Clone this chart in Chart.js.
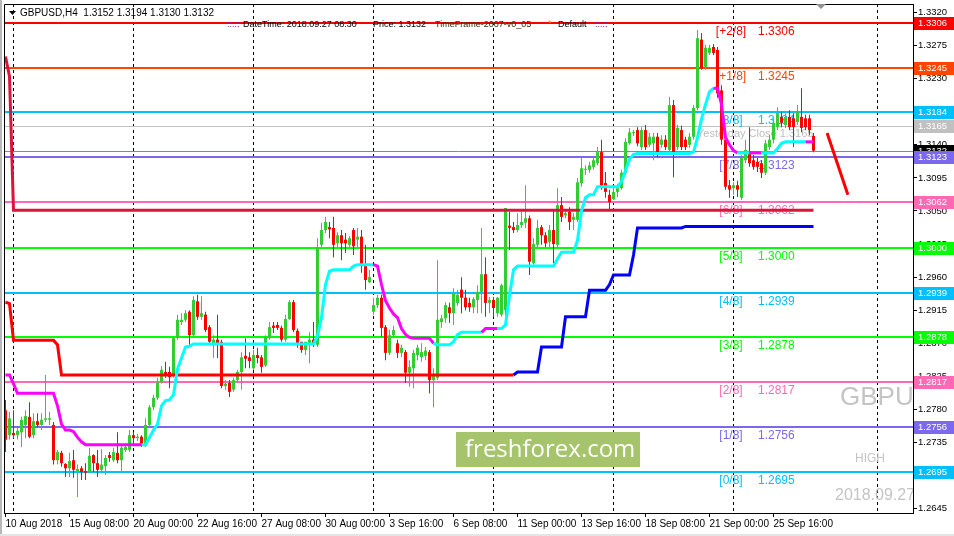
<!DOCTYPE html>
<html>
<head>
<meta charset="utf-8">
<script src="https://cdn.jsdelivr.net/npm/chart.js@4.4.1/dist/chart.umd.min.js"></script>
<style>
  html, body { margin: 0; padding: 0; background: #fff; }
  canvas { display: block; }
</style>
</head>
<body>
<canvas id="chart" width="954" height="536"></canvas>
<script>
// GBPUSD H4 candles, [open, high, low, close], one per bar from 10 Aug 2018 16:00
const candles = [
  [1.2779,1.2793,1.2722,1.2739],[1.2745,1.2777,1.2739,1.2768],[1.2748,1.2779,1.2741,1.2745],[1.2745,1.2755,1.2739,1.2751],
  [1.2749,1.2770,1.2729,1.2766],[1.2759,1.2779,1.2741,1.2771],[1.2770,1.2790,1.2741,1.2743],[1.2745,1.2775,1.2741,1.2764],
  [1.2764,1.2775,1.2756,1.2759],[1.2759,1.2775,1.2752,1.2766],[1.2766,1.2827,1.2763,1.2768],[1.2766,1.2777,1.2759,1.2768],
  [1.2759,1.2763,1.2705,1.2711],[1.2711,1.2725,1.2705,1.2722],[1.2721,1.2724,1.2702,1.2707],[1.2706,1.2707,1.2688,1.2700],
  [1.2700,1.2721,1.2688,1.2710],[1.2711,1.2725,1.2687,1.2698],[1.2695,1.2705,1.2661,1.2699],[1.2700,1.2703,1.2684,1.2695],
  [1.2696,1.2707,1.2684,1.2694],[1.2695,1.2728,1.2694,1.2717],[1.2718,1.2719,1.2695,1.2707],[1.2707,1.2725,1.2688,1.2698],
  [1.2698,1.2726,1.2695,1.2705],[1.2703,1.2718,1.2691,1.2714],[1.2718,1.2722,1.2709,1.2714],[1.2711,1.2728,1.2709,1.2722],
  [1.2721,1.2749,1.2707,1.2711],[1.2711,1.2732,1.2696,1.2728],[1.2725,1.2734,1.2722,1.2729],[1.2725,1.2752,1.2722,1.2745],
  [1.2745,1.2749,1.2734,1.2741],[1.2741,1.2747,1.2737,1.2743],[1.2743,1.2745,1.2729,1.2732],[1.2732,1.2768,1.2729,1.2759],
  [1.2759,1.2786,1.2755,1.2783],[1.2783,1.2800,1.2779,1.2796],[1.2796,1.2823,1.2793,1.2817],[1.2817,1.2839,1.2815,1.2834],
  [1.2831,1.2845,1.2823,1.2827],[1.2831,1.2838,1.2809,1.2824],[1.2827,1.2880,1.2823,1.2877],[1.2877,1.2909,1.2875,1.2902],
  [1.2899,1.2911,1.2895,1.2902],[1.2902,1.2915,1.2899,1.2911],[1.2913,1.2915,1.2868,1.2881],[1.2881,1.2934,1.2879,1.2929],
  [1.2927,1.2936,1.2902,1.2906],[1.2906,1.2934,1.2902,1.2911],[1.2909,1.2913,1.2885,1.2888],[1.2892,1.2895,1.2868,1.2872],
  [1.2870,1.2881,1.2850,1.2875],[1.2875,1.2909,1.2850,1.2870],[1.2872,1.2875,1.2809,1.2812],[1.2812,1.2820,1.2807,1.2815],
  [1.2816,1.2820,1.2797,1.2804],[1.2807,1.2823,1.2804,1.2820],[1.2820,1.2834,1.2817,1.2831],[1.2831,1.2858,1.2807,1.2851],
  [1.2853,1.2877,1.2836,1.2849],[1.2851,1.2858,1.2836,1.2846],[1.2836,1.2861,1.2834,1.2854],[1.2854,1.2864,1.2843,1.2850],
  [1.2851,1.2854,1.2830,1.2838],[1.2840,1.2881,1.2838,1.2879],[1.2877,1.2899,1.2875,1.2892],[1.2894,1.2899,1.2884,1.2891],
  [1.2895,1.2899,1.2888,1.2891],[1.2891,1.2894,1.2872,1.2875],[1.2875,1.2909,1.2872,1.2903],[1.2903,1.2929,1.2902,1.2926],
  [1.2926,1.2929,1.2885,1.2888],[1.2887,1.2890,1.2864,1.2868],[1.2872,1.2872,1.2857,1.2861],[1.2861,1.2872,1.2854,1.2872],
  [1.2870,1.2885,1.2843,1.2875],[1.2875,1.2899,1.2865,1.2870],[1.2868,1.3013,1.2865,1.3001],[1.3004,1.3034,1.3001,1.3024],
  [1.3024,1.3042,1.3020,1.3035],[1.3028,1.3035,1.3013,1.3025],[1.3027,1.3042,1.2987,1.3004],[1.3006,1.3021,1.3001,1.3017],
  [1.3017,1.3024,1.2983,1.3006],[1.3011,1.3020,1.2993,1.3006],[1.3004,1.3016,1.3001,1.3013],[1.3024,1.3027,1.2990,1.3002],
  [1.3011,1.3027,1.3000,1.3015],[1.3015,1.3024,1.2966,1.2977],[1.2977,1.3004,1.2943,1.2956],[1.2953,1.2970,1.2952,1.2960],
  [1.2913,1.2932,1.2909,1.2922],[1.2922,1.2936,1.2918,1.2932],[1.2932,1.2936,1.2879,1.2891],[1.2892,1.2895,1.2847,1.2857],
  [1.2857,1.2888,1.2854,1.2881],[1.2881,1.2894,1.2877,1.2888],[1.2870,1.2875,1.2850,1.2857],[1.2857,1.2868,1.2851,1.2864],
  [1.2858,1.2861,1.2816,1.2830],[1.2830,1.2847,1.2811,1.2838],[1.2836,1.2861,1.2809,1.2857],[1.2854,1.2868,1.2847,1.2864],
  [1.2851,1.2870,1.2845,1.2858],[1.2853,1.2865,1.2847,1.2860],[1.2858,1.2861,1.2802,1.2820],[1.2820,1.2836,1.2783,1.2827],
  [1.2823,1.2983,1.2820,1.2902],[1.2899,1.2909,1.2891,1.2904],[1.2904,1.2926,1.2898,1.2922],[1.2919,1.2925,1.2898,1.2911],
  [1.2911,1.2945,1.2895,1.2937],[1.2925,1.2943,1.2921,1.2936],[1.2943,1.2960,1.2911,1.2932],[1.2932,1.2943,1.2915,1.2919],
  [1.2925,1.2932,1.2913,1.2919],[1.2919,1.2933,1.2911,1.2930],[1.2929,1.2949,1.2911,1.2940],[1.2940,1.3027,1.2911,1.2964],
  [1.2964,1.2987,1.2906,1.2925],[1.2925,1.2933,1.2911,1.2929],[1.2929,1.2933,1.2906,1.2918],[1.2911,1.2933,1.2906,1.2932],
  [1.2909,1.2951,1.2906,1.2949],[1.2915,1.3054,1.2906,1.3054],[1.3030,1.3049,1.2997,1.3027],[1.3028,1.3035,1.3020,1.3024],
  [1.3024,1.3047,1.3021,1.3031],[1.3031,1.3049,1.3027,1.3035],[1.3034,1.3085,1.3027,1.3040],[1.3040,1.3044,1.2963,1.2981],
  [1.2979,1.3013,1.2977,1.3005],[1.3004,1.3038,1.3001,1.3027],[1.3028,1.3031,1.3004,1.3017],[1.3017,1.3021,1.3001,1.3006],
  [1.3008,1.3031,1.3001,1.3024],[1.3024,1.3051,1.2979,1.3005],[1.3004,1.3081,1.3000,1.3058],[1.3058,1.3069,1.3035,1.3042],
  [1.3044,1.3051,1.3040,1.3047],[1.3049,1.3055,1.3024,1.3035],[1.3038,1.3047,1.3024,1.3042],[1.3038,1.3095,1.3035,1.3089],
  [1.3088,1.3122,1.3083,1.3108],[1.3106,1.3112,1.3099,1.3107],[1.3106,1.3117,1.3102,1.3112],[1.3110,1.3123,1.3106,1.3119],
  [1.3115,1.3137,1.3112,1.3130],[1.3130,1.3147,1.3079,1.3084],[1.3088,1.3103,1.3068,1.3076],[1.3072,1.3079,1.3051,1.3062],
  [1.3066,1.3083,1.3065,1.3076],[1.3076,1.3087,1.3069,1.3081],[1.3081,1.3106,1.3079,1.3102],[1.3102,1.3149,1.3099,1.3144],
  [1.3142,1.3163,1.3140,1.3157],[1.3156,1.3160,1.3152,1.3157],[1.3160,1.3164,1.3138,1.3142],[1.3137,1.3164,1.3133,1.3160],
  [1.3160,1.3167,1.3133,1.3137],[1.3140,1.3156,1.3137,1.3151],[1.3142,1.3156,1.3119,1.3151],[1.3151,1.3156,1.3123,1.3129],
  [1.3140,1.3153,1.3136,1.3147],[1.3147,1.3153,1.3133,1.3137],[1.3133,1.3205,1.3130,1.3194],[1.3194,1.3201,1.3096,1.3129],
  [1.3137,1.3167,1.3133,1.3163],[1.3160,1.3166,1.3133,1.3137],[1.3147,1.3151,1.3133,1.3137],[1.3140,1.3156,1.3136,1.3151],
  [1.3151,1.3194,1.3147,1.3190],[1.3190,1.3296,1.3187,1.3285],[1.3283,1.3292,1.3242,1.3244],[1.3246,1.3276,1.3242,1.3272],
  [1.3265,1.3276,1.3262,1.3272],[1.3273,1.3277,1.3262,1.3265],[1.3269,1.3273,1.3204,1.3210],[1.3214,1.3221,1.3140,1.3147],
  [1.3147,1.3151,1.3079,1.3083],[1.3085,1.3092,1.3068,1.3079],[1.3081,1.3089,1.3072,1.3085],[1.3085,1.3091,1.3069,1.3079],
  [1.3068,1.3126,1.3065,1.3122],[1.3119,1.3147,1.3115,1.3133],[1.3129,1.3164,1.3110,1.3115],[1.3119,1.3126,1.3106,1.3110],
  [1.3117,1.3122,1.3103,1.3110],[1.3115,1.3119,1.3095,1.3102],[1.3102,1.3147,1.3099,1.3142],[1.3137,1.3153,1.3133,1.3147],
  [1.3147,1.3176,1.3142,1.3170],[1.3164,1.3191,1.3160,1.3183],[1.3178,1.3185,1.3164,1.3170],[1.3167,1.3183,1.3163,1.3178],
  [1.3178,1.3187,1.3160,1.3164],[1.3176,1.3183,1.3137,1.3164],[1.3171,1.3194,1.3167,1.3185],[1.3178,1.3217,1.3157,1.3163],
  [1.3176,1.3181,1.3160,1.3164],[1.3176,1.3181,1.3153,1.3160],[1.3152,1.3156,1.3130,1.3132]
];
// OHLC shown in the title line
const headerOHLC = [1.3152, 1.3194, 1.3130, 1.3132];

// trailing average line (cyan rising / magenta falling)
const maLine = [
  1.2827,1.2827,1.2815,1.2802,
  1.2802,1.2802,1.2802,1.2802,1.2802,1.2802,1.2802,1.2802,1.2802,
  1.2785,1.2760,1.2752,1.2752,1.2750,1.2742,1.2736,1.2732,
  1.2732,1.2732,1.2732,1.2732,1.2732,1.2732,1.2732,1.2732,1.2732,1.2732,1.2732,1.2732,1.2732,1.2732,1.2732,
  1.2742,1.2752,1.2760,1.2785,1.2792,1.2793,1.2800,1.2835,1.2850,1.2865,1.2866,1.2869,
  1.2869,1.2869,1.2869,1.2869,1.2869,1.2869,1.2869,1.2869,1.2869,1.2869,
  1.2869,1.2869,1.2869,1.2869,1.2869,1.2869,1.2869,1.2869,1.2869,1.2869,
  1.2869,1.2869,1.2869,1.2869,1.2869,1.2869,1.2869,1.2869,1.2869,1.2869,
  1.2880,1.2905,1.2950,1.2968,
  1.2970,1.2970,1.2970,1.2970,1.2970,
  1.2975,
  1.2977,1.2977,1.2977,1.2977,1.2977,
  1.2975,1.2950,1.2928,1.2918,1.2910,1.2905,1.2890,1.2882,1.2878,
  1.2877,1.2877,1.2877,1.2877,1.2877,
  1.2870,
  1.2868,1.2868,1.2868,1.2868,
  1.2872,1.2882,
  1.2885,1.2885,1.2885,1.2885,1.2885,1.2885,
  1.2890,1.2890,1.2890,1.2890,1.2890,
  1.2895,1.2935,1.2970,
  1.2975,1.2975,1.2975,1.2975,1.2975,1.2975,1.2975,1.2975,1.2975,1.2975,
  1.2985,
  1.2994,1.2994,1.2994,1.2994,
  1.3010,1.3050,1.3068,
  1.3072,1.3072,
  1.3083,1.3083,1.3083,1.3083,1.3083,1.3083,
  1.3090,1.3105,1.3120,1.3127,
  1.3128,1.3128,1.3128,1.3128,1.3128,1.3128,1.3128,1.3128,1.3128,1.3128,1.3128,1.3128,1.3128,1.3128,
  1.3130,1.3150,1.3175,1.3195,1.3212,1.3217,1.3217,1.3195,1.3150,1.3140,1.3132,
  1.3129,1.3129,1.3129,1.3129,1.3129,1.3129,1.3129,1.3129,1.3129,1.3129,
  1.3135,1.3142,
  1.3144,1.3144,1.3144,1.3144,1.3144,1.3144,1.3144,1.3144
];
// bar index where the average changes colour: 1 = rising, -1 = falling
const maTurns = [[0,-1],[35,1],[93,-1],[108,1],[120,-1],[124,1],[178,-1],[184,1],[187,-1],[190,1],[201,-1]];

// step stop lines, [bar, price] breakpoints
const upperStop = [[0,1.3260],[1,1.3233],[2,1.3051],[202,1.3051]];
const lowerStopRed = [[0,1.2926],[1,1.2924],[2,1.2874],[12,1.2874],[13,1.2868],[14,1.2827],[127,1.2827]];
const lowerStopBlue = [[127,1.2827],[128,1.2831],[133,1.2831],[134,1.2865],[139,1.2865],[140,1.2906],[145,1.2906],
  [146,1.2942],[150,1.2942],[151,1.2950],[152,1.2963],[156,1.2963],[157,1.2990],[158,1.3027],[169,1.3027],[170,1.3029],[202,1.3029]];
const forecastLine = [[205.4,1.3156],[210.6,1.3072]];

// Murrey math levels
const murreyNames = ['[+2/8]','[+1/8]','[8/8]','[7/8]','[6/8]','[5/8]','[4/8]','[3/8]','[2/8]','[1/8]','[0/8]'];
const murreyLevels = [1.3306,1.3245,1.3184,1.3123,1.3062,1.3000,1.2939,1.2878,1.2817,1.2756,1.2695];
const yesterdayClose = 1.3165;
const lastPrice = 1.3132;

const priceTicks = [1.3320,1.3275,1.3230,1.3185,1.3140,1.3095,1.3050,1.3005,1.2960,1.2915,1.2870,1.2825,1.2780,1.2735,1.2690,1.2645];
const timeLabels = ['10 Aug 2018','15 Aug 08:00','20 Aug 00:00','22 Aug 16:00','27 Aug 08:00','30 Aug 00:00',
  '3 Sep 16:00','6 Sep 08:00','11 Sep 00:00','13 Sep 16:00','18 Sep 08:00','21 Sep 00:00','25 Sep 16:00'];
const labelStep = 16;
const weekStarts = [2, 32, 62, 92, 122, 152, 182, 218];

// styles
const levelColors = ['#FF0000','#FF4500','#00BFFF','#7B68EE','#FF69B4','#00FF00','#00BFFF','#00FF00','#FF69B4','#7B68EE','#00BFFF'];
const UP = '#32CD32', DOWN = '#FF0000';
const FONT = '"Liberation Sans", Arial, sans-serif';

function trendAt(i) {
  let t = maTurns[0][1];
  for (const [start, v] of maTurns) if (i >= start) t = v;
  return t;
}
const candleColor = ctx => {
  const c = candles[ctx.dataIndex];
  return c && c[3] >= c[0] ? UP : DOWN;
};
const pts = arr => arr.map(([x, y]) => ({x, y}));

const decor = {
  id: 'decor',
  beforeDatasetsDraw(chart) {
    const {ctx, chartArea: a, scales: {x, y}} = chart;
    ctx.save();
    ctx.beginPath();
    ctx.rect(a.left, a.top, a.width, a.height);
    ctx.clip();

    // weekly separators
    ctx.strokeStyle = '#000';
    ctx.lineWidth = 1;
    ctx.setLineDash([3, 3]);
    weekStarts.forEach(i => {
      const px = Math.floor(x.getPixelForValue(i)) + 0.5;
      ctx.beginPath();
      ctx.moveTo(px, a.top);
      ctx.lineTo(px, a.bottom);
      ctx.stroke();
    });
    ctx.setLineDash([]);

    // watermark texts
    ctx.fillStyle = '#C4C4C4';
    ctx.textBaseline = 'middle';
    ctx.textAlign = 'left';
    ctx.font = '26px ' + FONT;
    ctx.fillText('GBPU', 840, 398);
    ctx.font = '12px ' + FONT;
    ctx.fillText('HIGH', 855, 459);
    ctx.font = '16px ' + FONT;
    ctx.fillText('2018.09.27', 835, 496);

    // yesterday close
    let py = Math.round(y.getPixelForValue(yesterdayClose)) + 0.5;
    ctx.strokeStyle = '#C0C0C0';
    ctx.beginPath();
    ctx.moveTo(a.left, py);
    ctx.lineTo(a.right, py);
    ctx.stroke();
    ctx.font = '11px ' + FONT;
    ctx.fillStyle = '#BDBDBD';
    ctx.fillText('Yesterday Close ' + yesterdayClose.toFixed(4), 697, py + 7);

    // Murrey lines and labels
    murreyLevels.forEach((lv, k) => {
      const ly = Math.round(y.getPixelForValue(lv));
      ctx.strokeStyle = levelColors[k];
      ctx.lineWidth = 2;
      ctx.beginPath();
      ctx.moveTo(a.left, ly);
      ctx.lineTo(a.right, ly);
      ctx.stroke();
      ctx.fillStyle = levelColors[k];
      ctx.font = '12px ' + FONT;
      ctx.textAlign = 'center';
      ctx.fillText(murreyNames[k], 731, ly + 9);
      ctx.textAlign = 'left';
      ctx.fillText(lv.toFixed(4), 758, ly + 9);
    });

    // current price line
    py = Math.round(y.getPixelForValue(lastPrice)) + 0.5;
    ctx.strokeStyle = '#808A90';
    ctx.lineWidth = 1;
    ctx.beginPath();
    ctx.moveTo(a.left, py);
    ctx.lineTo(a.right, py);
    ctx.stroke();
    ctx.restore();
  },
  afterDatasetsDraw(chart) {
    const {ctx} = chart;
    ctx.save();
    ctx.fillStyle = '#A5C46B';
    ctx.fillRect(456, 432, 184, 35);
    ctx.fillStyle = '#FFFFFF';
    ctx.font = '24px "Open Sans", ' + FONT;
    ctx.textBaseline = 'middle';
    ctx.textAlign = 'left';
    ctx.fillText('freshforex.com', 465, 450);
    ctx.restore();
  },
  afterDraw(chart) {
    const {ctx, chartArea: a, scales: {y}} = chart;
    ctx.save();
    // frame
    ctx.strokeStyle = '#000';
    ctx.lineWidth = 1;
    ctx.beginPath();
    ctx.moveTo(a.left + 0.5, a.bottom);
    ctx.lineTo(a.left + 0.5, a.top + 0.5);
    ctx.lineTo(a.right, a.top + 0.5);
    ctx.stroke();
    ctx.fillStyle = '#B8B8B8';
    ctx.fillRect(0, 0, 2, 536);
    ctx.fillStyle = '#E4E4E4';
    ctx.fillRect(0, 534, 954, 2);

    // header
    ctx.fillStyle = '#000';
    ctx.beginPath();
    ctx.moveTo(9, 11); ctx.lineTo(16, 11); ctx.lineTo(12.5, 15); ctx.closePath();
    ctx.fill();
    ctx.font = '10px ' + FONT;
    ctx.textBaseline = 'middle';
    ctx.textAlign = 'left';
    ctx.fillText('GBPUSD,H4  ' + headerOHLC.map(v => v.toFixed(4)).join(' '), 20, 13);
    ctx.font = '9px ' + FONT;
    ctx.fillStyle = '#800080';
    ctx.fillText(':::::', 227, 25);
    ctx.fillText(':::::', 595, 25);
    ctx.fillStyle = '#000';
    ctx.fillText('DateTime: 2018.09.27 08:30', 243, 25);
    ctx.fillText('Price: ' + lastPrice.toFixed(4), 373, 25);
    ctx.fillStyle = '#3A2808';
    ctx.fillText('TimeFrame-2007-v0_05', 435, 25);
    ctx.fillStyle = '#FF8C00';
    ctx.fillText('*', 548, 24);
    ctx.fillStyle = '#000';
    ctx.fillText('Default', 558, 25);

    // shift marker
    ctx.fillStyle = '#909090';
    ctx.beginPath();
    ctx.moveTo(816, 4); ctx.lineTo(826, 4); ctx.lineTo(821, 9); ctx.closePath();
    ctx.fill();

    // price boxes on the right axis
    const boxes = [[lastPrice, '#000000'], [yesterdayClose, '#C0C0C0']]
      .concat(murreyLevels.map((v, k) => [v, levelColors[k]]));
    ctx.font = '9.5px ' + FONT;
    boxes.forEach(([v, col]) => {
      const py = Math.round(y.getPixelForValue(v));
      ctx.fillStyle = col;
      ctx.fillRect(914, py - 6, 40, 13);
      ctx.fillStyle = '#FFFFFF';
      ctx.fillText(v.toFixed(4), 918, py + 0.5);
    });
    ctx.restore();
  }
};

new Chart(document.getElementById('chart'), {
  type: 'bar',
  data: {
    datasets: [
      {
        type: 'line', data: pts(forecastLine), borderColor: '#FF0000', borderWidth: 3,
        pointRadius: 0, order: 1
      },
      {
        type: 'line', data: maLine.map((v, i) => ({x: i, y: v})), borderColor: '#00FFFF', borderWidth: 3,
        pointRadius: 0, order: 2,
        segment: { borderColor: ctx => trendAt(ctx.p1DataIndex) > 0 ? '#00FFFF' : '#FF00FF' }
      },
      {
        type: 'line', data: pts(upperStop), borderColor: '#DC143C', borderWidth: 3, pointRadius: 0, order: 3
      },
      {
        type: 'line', data: pts(lowerStopRed), borderColor: '#FF0000', borderWidth: 3, pointRadius: 0, order: 3
      },
      {
        type: 'line', data: pts(lowerStopBlue), borderColor: '#0000FF', borderWidth: 3, pointRadius: 0, order: 3
      },
      {
        data: candles.map((c, i) => ({x: i, y: [c[0], c[3]]})),
        backgroundColor: candleColor, barThickness: 3, minBarLength: 1,
        grouped: false, borderWidth: 0, inflateAmount: 0, order: 10
      },
      {
        data: candles.map((c, i) => ({x: i, y: [c[2], c[1]]})),
        backgroundColor: candleColor, barThickness: 1,
        grouped: false, borderWidth: 0, inflateAmount: 0, order: 11
      }
    ]
  },
  options: {
    responsive: false,
    animation: false,
    devicePixelRatio: 1,
    events: [],
    layout: { padding: { left: 4, top: 4, right: 0, bottom: 0 } },
    plugins: { legend: { display: false }, tooltip: { enabled: false } },
    scales: {
      x: {
        type: 'linear', min: -0.375, max: 226.875, offset: false,
        afterBuildTicks: s => { s.ticks = timeLabels.map((t, k) => ({value: k * labelStep})); },
        afterFit: s => { s.height = 23; s.paddingLeft = 0; s.paddingRight = 0; },
        ticks: {
          autoSkip: false, maxRotation: 0, minRotation: 0, align: 'start', padding: 1, color: '#000',
          font: { family: FONT, size: 10 },
          callback: (v, idx) => timeLabels[idx]
        },
        grid: { display: true, drawOnChartArea: false, tickLength: 4, color: '#000', offset: false },
        border: { display: true, color: '#000' }
      },
      y: {
        type: 'linear', position: 'right', min: 1.26392, max: 1.33315, beginAtZero: false,
        afterBuildTicks: s => { s.ticks = priceTicks.map(v => ({value: v})); },
        afterFit: s => { s.width = 41; s.paddingTop = 0; s.paddingBottom = 0; },
        ticks: {
          autoSkip: false, padding: 1, color: '#000',
          font: { family: FONT, size: 9.5 },
          callback: v => Number(v).toFixed(4)
        },
        grid: { display: true, drawOnChartArea: false, tickLength: 4, color: '#000' },
        border: { display: true, color: '#000' }
      }
    }
  },
  plugins: [decor]
});
</script>
</body>
</html>
